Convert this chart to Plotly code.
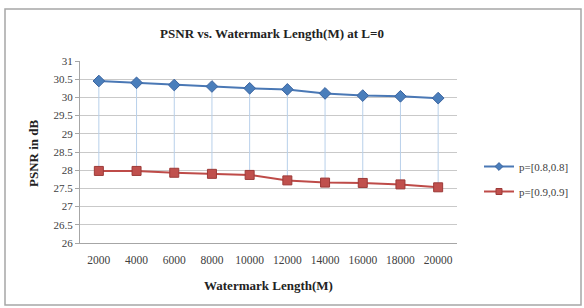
import plotly.graph_objects as go

lengths = [2000, 4000, 6000, 8000, 10000, 12000, 14000, 16000, 18000, 20000]
psnr_08 = [30.45, 30.40, 30.34, 30.30, 30.25, 30.22, 30.11, 30.05, 30.03, 29.98]
psnr_09 = [27.98, 27.98, 27.93, 27.90, 27.87, 27.72, 27.66, 27.65, 27.61, 27.53]
series_names = ["p=[0.8,0.8]", "p=[0.9,0.9]"]
y_ticks = [26, 26.5, 27, 27.5, 28, 28.5, 29, 29.5, 30, 30.5, 31]

xcat = [str(v) for v in lengths]

W, H = 584, 308
L, R, T, B = 80, 127, 61, 65
pw, ph = W - L - R, H - T - B

font_fam = "Liberation Serif"

blue_line, blue_fill, blue_edge = "#4a78b5", "#4a7ebb", "#3b64a0"
red_line, red_fill, red_edge = "#be4b48", "#c0504d", "#9c3a38"

fig = go.Figure()

# high-low lines
hx, hy = [], []
for c, a, b in zip(xcat, psnr_08, psnr_09):
    hx += [c, c, None]
    hy += [a, b, None]
fig.add_trace(go.Scatter(x=hx, y=hy, mode="lines", line=dict(color="#b8d0ea", width=1),
                         showlegend=False, hoverinfo="skip"))

fig.add_trace(go.Scatter(x=xcat, y=psnr_08, name=series_names[0], mode="lines+markers",
                         showlegend=False,
                         line=dict(color=blue_line, width=2),
                         marker=dict(symbol="diamond", size=9, color=blue_fill,
                                     line=dict(color=blue_edge, width=1))))
fig.add_trace(go.Scatter(x=xcat, y=psnr_09, name=series_names[1], mode="lines+markers",
                         showlegend=False,
                         line=dict(color=red_line, width=2),
                         marker=dict(symbol="square", size=9, color=red_fill,
                                     line=dict(color=red_edge, width=1))))

# legend entries (smaller legend markers, as in the reference)
fig.add_trace(go.Scatter(x=[None], y=[None], name=series_names[0], mode="lines+markers",
                         legendgroup="a",
                         line=dict(color=blue_line, width=2),
                         marker=dict(symbol="diamond", size=6, color=blue_fill,
                                     line=dict(color=blue_edge, width=1))))
fig.add_trace(go.Scatter(x=[None], y=[None], name=series_names[1], mode="lines+markers",
                         legendgroup="b",
                         line=dict(color=red_line, width=2),
                         marker=dict(symbol="square", size=6, color=red_fill,
                                     line=dict(color=red_edge, width=1))))

def px(x):
    return (x - L) / pw

def py(y):
    return 1 - (y - T) / ph

fig.add_shape(type="rect", xref="paper", yref="paper",
              x0=px(5), x1=px(581), y0=py(9), y1=py(305),
              line=dict(color="#a6a6a6", width=1.5), fillcolor="rgba(0,0,0,0)", layer="below")

title_font = dict(family=font_fam, size=13, color="#222222")
tick_col = "#404040"
fig.add_annotation(text="<b>Watermark Length(M)</b>", xref="paper", yref="paper",
                   x=px(268), y=py(285), xanchor="center", yanchor="middle",
                   showarrow=False, font=title_font)
fig.add_annotation(text="<b>PSNR in dB</b>", xref="paper", yref="paper",
                   x=px(33), y=py(153), xanchor="center", yanchor="middle",
                   textangle=-90, showarrow=False, font=title_font)

fig.update_layout(
    width=W, height=H,
    margin=dict(l=L, r=R, t=T, b=B, autoexpand=False),
    paper_bgcolor="white", plot_bgcolor="white",
    font=dict(family=font_fam, size=10, color=tick_col),
    title=dict(text="<b>PSNR vs. Watermark Length(M) at L=0</b>",
               x=px(272), xref="paper", xanchor="center",
               y=1 - 33 / H, yanchor="middle",
               font=title_font),
    xaxis=dict(type="category", showgrid=False, showline=True, linecolor="#a6a6a6",
               automargin=False, range=[-0.5, 9.5],
               ticks="", ticklabelstandoff=6,
               tickfont=dict(family=font_fam, size=11.5, color=tick_col)),
    yaxis=dict(range=[26, 31], tickvals=y_ticks, ticktext=[f"{v:g}" for v in y_ticks],
               automargin=False,
               showgrid=True, gridcolor="#c9c9c9", gridwidth=1, zeroline=False,
               showline=True, linecolor="#a6a6a6", ticks="outside", ticklen=4,
               tickcolor="#a6a6a6",
               tickfont=dict(family=font_fam, size=11, color=tick_col)),
    legend=dict(x=px(479), y=py(179), xanchor="left", yanchor="middle",
                font=dict(family=font_fam, size=11, color=tick_col), bgcolor="rgba(0,0,0,0)",
                traceorder="grouped", tracegroupgap=6, itemwidth=30),
)

fig.write_html("out.html", config={"displayModeBar": False},
               post_script="document.body.style.margin='0';document.body.style.overflow='hidden';")
